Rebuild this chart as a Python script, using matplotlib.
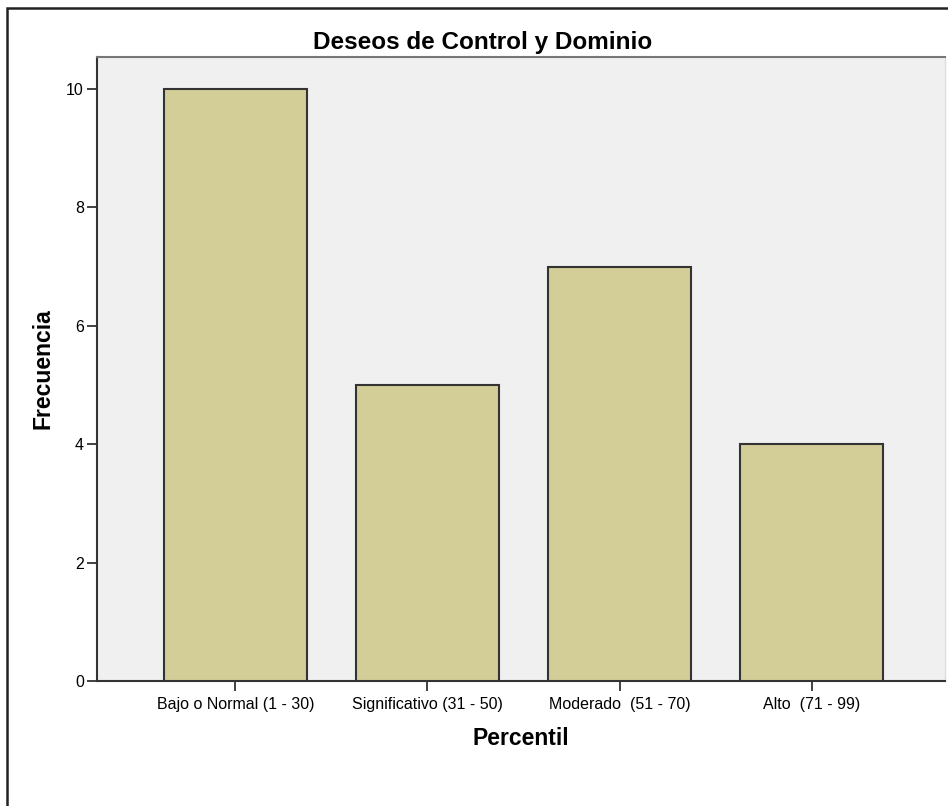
import numpy as np
import matplotlib
matplotlib.use("Agg")
import matplotlib.pyplot as plt
from matplotlib.patches import Rectangle

plt.rcParams['font.family'] = ['Liberation Sans', 'DejaVu Sans']

categorias = ["Bajo o Normal (1 - 30)", "Significativo (31 - 50)",
              "Moderado  (51 - 70)", "Alto  (71 - 99)"]
frecuencia = [10, 5, 7, 4]
y_ticks = [0, 2, 4, 6, 8, 10]

fig = plt.figure(figsize=(9.48, 8.06), dpi=100)
ax = fig.add_axes([97/948, 1-681/806, (945-97)/948, (681-57)/806])
ax.set_facecolor("#F0F0F0")

x = np.arange(len(categorias))
ax.bar(x, frecuencia, width=0.745, color="#D3CE97", edgecolor="#333333", linewidth=1.5, zorder=3)

ax.set_xlim(-0.721, 3.695)
ax.set_ylim(0, 10.54)
ax.set_xticks(x)
ax.set_xticklabels(categorias, fontsize=11.5)
ax.set_yticks(y_ticks)
ax.set_yticklabels([str(v) for v in y_ticks], fontsize=11.5)
ax.tick_params(axis="both", direction="out", length=7.5, width=1.3, color="#333333")
ax.tick_params(axis="x", pad=4)
ax.tick_params(axis="y", pad=2)

ax.spines["left"].set_color("#333333")
ax.spines["left"].set_linewidth(1.5)
ax.spines["bottom"].set_color("#333333")
ax.spines["bottom"].set_linewidth(1.5)
ax.spines["top"].set_color("#777777")
ax.spines["top"].set_linewidth(1.5)
ax.spines["right"].set_color("#DDDDDD")
ax.spines["right"].set_linewidth(1)

ax.set_xlabel("Percentil", fontsize=16.5, fontweight="bold", labelpad=11)
ax.set_ylabel("Frecuencia", fontsize=16.5, fontweight="bold", labelpad=8)
fig.text(483/948, 1-42/806, "Deseos de Control y Dominio", fontsize=17.5,
         fontweight="bold", ha="center", va="center")

# marco exterior
fig.patches.append(Rectangle((7/948, -0.05), 1.05, 1-8/806+0.05, transform=fig.transFigure,
                             fill=False, edgecolor="#222222", linewidth=1.8))

fig.savefig("out.png", dpi=100)
